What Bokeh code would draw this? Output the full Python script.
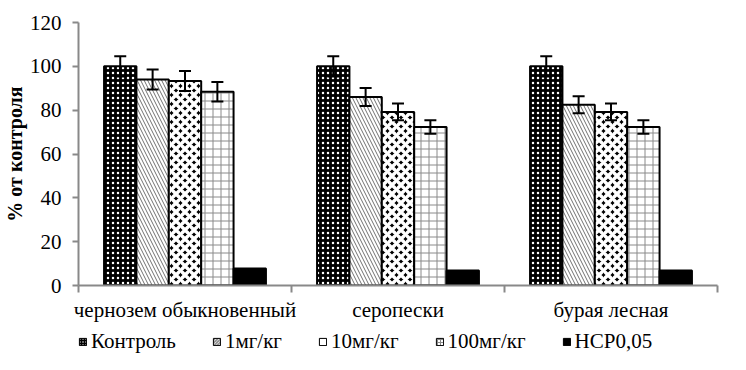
from bokeh.plotting import figure
from bokeh.layouts import column
from bokeh.models import (ColumnDataSource, Range1d, LinearAxis,
                          FixedTicker, Whisker, TeeHead, Legend, LegendItem)
from bokeh.transform import dodge
from bokeh.embed import file_html
from bokeh.resources import INLINE

soils = ["чернозем обыкновенный", "серопески", "бурая лесная"]
series = ["Контроль", "1мг/кг", "10мг/кг", "100мг/кг", "НСР0,05"]
control = [100, 100, 100]
mg1 = [94.0, 86.0, 82.5]
mg10 = [93.3, 79.2, 79.2]
mg100 = [88.4, 72.3, 72.3]
nsr = [7.8, 6.8, 6.8]
err_control = [4.6, 4.6, 4.6]
err_mg1 = [4.6, 4.1, 3.9]
err_mg10 = [4.6, 3.8, 3.8]
err_mg100 = [4.5, 3.1, 3.1]
y_ticks = [0, 20, 40, 60, 80, 100, 120]

FONT = "Liberation Serif"
AXIS_GRAY = "#898989"

pos = [i + 0.5 for i in range(len(soils))]
bounds = list(range(len(soils) + 1))

src = ColumnDataSource(dict(
    pos=pos, control=control, mg1=mg1, mg10=mg10, mg100=mg100, nsr=nsr,
    control_up=[v + e for v, e in zip(control, err_control)],
    control_lo=[v - e for v, e in zip(control, err_control)],
    mg1_up=[v + e for v, e in zip(mg1, err_mg1)],
    mg1_lo=[v - e for v, e in zip(mg1, err_mg1)],
    mg10_up=[v + e for v, e in zip(mg10, err_mg10)],
    mg10_lo=[v - e for v, e in zip(mg10, err_mg10)],
    mg100_up=[v + e for v, e in zip(mg100, err_mg100)],
    mg100_lo=[v - e for v, e in zip(mg100, err_mg100)],
))

p = figure(x_range=Range1d(0, len(soils)), y_range=Range1d(0, 120),
           frame_width=639, frame_height=263, output_backend="svg", toolbar_location=None,
           x_axis_location=None, y_axis_location=None,
           min_border_left=78, min_border_right=21, min_border_top=22, min_border_bottom=37)
p.outline_line_color = None
p.xgrid.visible = False
p.ygrid.visible = False
p.background_fill_color = "white"

# y axis
yax = LinearAxis(ticker=FixedTicker(ticks=y_ticks), axis_label="% от контроля")
yax.axis_line_color = AXIS_GRAY
yax.axis_line_width = 2
yax.major_tick_line_color = AXIS_GRAY
yax.major_tick_line_width = 2
yax.major_tick_out = 6
yax.major_tick_in = 0
yax.minor_tick_line_color = None
yax.major_label_text_font = FONT
yax.major_label_text_font_size = "21px"
yax.major_label_text_color = "black"
yax.major_label_standoff = 11
yax.axis_label_text_font = FONT
yax.axis_label_text_font_size = "20px"
yax.axis_label_text_font_style = "bold"
yax.axis_label_text_color = "black"
yax.axis_label_standoff = 1
p.add_layout(yax, "left")

# boundary tick axis (closest to frame)
bax = LinearAxis(ticker=FixedTicker(ticks=bounds),
                 major_label_overrides={b: "" for b in bounds})
bax.axis_line_color = AXIS_GRAY
bax.axis_line_width = 2
bax.major_tick_line_color = AXIS_GRAY
bax.major_tick_line_width = 2
bax.major_tick_out = 7
bax.major_tick_in = 0
bax.minor_tick_line_color = None
bax.major_label_text_font_size = "1px"
bax.major_label_standoff = 0
p.add_layout(bax, "below")

# category label axis
cax = LinearAxis(ticker=FixedTicker(ticks=pos),
                 major_label_overrides={x: s for x, s in zip(pos, soils)})
cax.axis_line_color = None
cax.major_tick_line_color = None
cax.minor_tick_line_color = None
cax.major_tick_out = 0
cax.major_label_standoff = 5
cax.major_label_text_font = FONT
cax.major_label_text_font_size = "21px"
cax.major_label_text_color = "black"
p.add_layout(cax, "below")

W = 0.152
styles = [
    dict(field="control", fill_color="black", hatch_pattern="dot", hatch_color="white",
         hatch_scale=5, hatch_weight=1),
    dict(field="mg1", fill_color="white", hatch_pattern="\\", hatch_color="#707070",
         hatch_scale=7, hatch_weight=1),
    dict(field="mg10", fill_color="black", hatch_pattern="x", hatch_color="white",
         hatch_scale=9, hatch_weight=3.5),
    dict(field="mg100", fill_color="white", hatch_pattern="+", hatch_color="#8a8a8a",
         hatch_scale=8, hatch_weight=1),
    dict(field="nsr", fill_color="black", hatch_pattern=None, hatch_color="black",
         hatch_scale=6, hatch_weight=1),
]
offsets = [-2 * W, -W, 0, W, 2 * W]

# legend lives in a small strip below the chart; its proxy bars fall far outside its ranges
lf = figure(width=78 + 639 + 21, height=42,
            x_range=Range1d(100, 101), y_range=Range1d(500, 501),
            output_backend="svg", toolbar_location=None,
            x_axis_location=None, y_axis_location=None,
            min_border_left=0, min_border_right=0, min_border_top=0, min_border_bottom=0)
lf.outline_line_color = None
lf.xgrid.visible = False
lf.ygrid.visible = False

items = []
for name, st, off in zip(series, styles, offsets):
    kw = dict(fill_color=st["fill_color"], line_color="black", line_width=2)
    if st["hatch_pattern"]:
        kw.update(hatch_pattern=st["hatch_pattern"], hatch_color=st["hatch_color"],
                  hatch_scale=st["hatch_scale"], hatch_weight=st["hatch_weight"])
    p.vbar(x=dodge("pos", off), top=st["field"], width=W, source=src, **kw)
    kw_leg = dict(kw, line_width=1)
    if st["hatch_pattern"]:
        kw_leg["hatch_scale"] = 3
    lr = lf.vbar(x="pos", top=st["field"], width=W, source=src, **kw_leg)
    items.append(LegendItem(label=name, renderers=[lr]))
    if st["field"] != "nsr":
        f = st["field"]
        wk = Whisker(source=src, base=dodge("pos", off),
                     upper=f + "_up", lower=f + "_lo",
                     line_color="black", line_width=2, level="overlay",
                     upper_head=TeeHead(size=12, line_width=2, line_color="black"),
                     lower_head=TeeHead(size=12, line_width=2, line_color="black"))
        p.add_layout(wk)

legend = Legend(items=items, orientation="horizontal", location=(0, 12))
legend.label_text_font = FONT
legend.label_text_font_size = "21px"
legend.label_text_color = "black"
legend.glyph_width = 9
legend.glyph_height = 9
legend.label_standoff = 4
legend.spacing = 36
legend.padding = 0
legend.margin = 0
legend.border_line_color = None
legend.background_fill_alpha = 0
lf.add_layout(legend, "center")

layout = column(p, lf, spacing=0)
open("out.html", "w").write(file_html(layout, INLINE))
